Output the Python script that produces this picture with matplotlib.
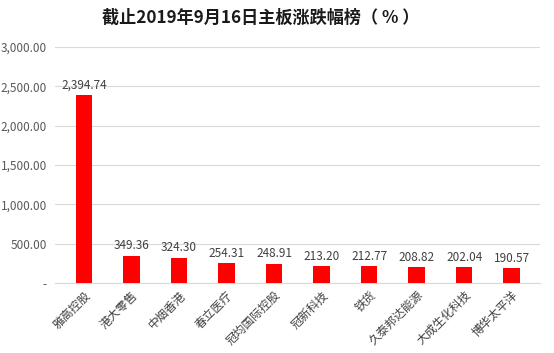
import matplotlib
matplotlib.use("Agg")
import matplotlib.pyplot as plt
from matplotlib.ticker import FuncFormatter

plt.rcParams['font.family'] = ['Noto Sans CJK SC', 'DejaVu Sans']

names = ["雅高控股", "港大零售", "中烟香港", "春立医疗", "冠均国际控股",
         "冠新科技", "铁货", "久泰邦达能源", "大成生化科技", "博华太平洋"]
changes = [2394.74, 349.36, 324.30, 254.31, 248.91,
           213.20, 212.77, 208.82, 202.04, 190.57]
y_ticks = [0, 500, 1000, 1500, 2000, 2500, 3000]


def fmt(v, pos=None):
    if v == 0:
        return "-"
    return f"{v:,.2f}"


fig = plt.figure(figsize=(5.54, 3.53), dpi=100)
ax = fig.add_axes([0.10, 0.198, 0.875, 0.669])

x = range(len(names))
ax.bar(x, changes, width=0.35, color="#ff0000", zorder=3)
for i, v in enumerate(changes):
    ax.text(i, v + 40, fmt(v), ha="center", va="bottom", fontsize=8.5, color="#404040")

ax.set_ylim(0, 3000)
ax.set_xlim(-0.6, len(names) - 0.4)
ax.set_yticks(y_ticks)
ax.yaxis.set_major_formatter(FuncFormatter(fmt))
ax.grid(axis="y", color="#d9d9d9", linewidth=0.8, zorder=0)
ax.set_xticks(list(x))
ax.set_xticklabels(names, rotation=45, ha="right", rotation_mode="anchor", fontsize=8.5, color="#404040")
ax.tick_params(axis="y", labelsize=8.5, labelcolor="#595959", length=0, pad=6)
ax.tick_params(axis="x", length=0, pad=4)
for s in ["top", "right", "left"]:
    ax.spines[s].set_visible(False)
ax.spines["bottom"].set_color("#d9d9d9")

fig.text(0.47, 0.95, "截止2019年9月16日主板涨跌幅榜（ % ）", fontsize=12.3, fontweight="bold",
         ha="center", va="center", color="#1a1a1a")

fig.savefig("out.png", dpi=100)
